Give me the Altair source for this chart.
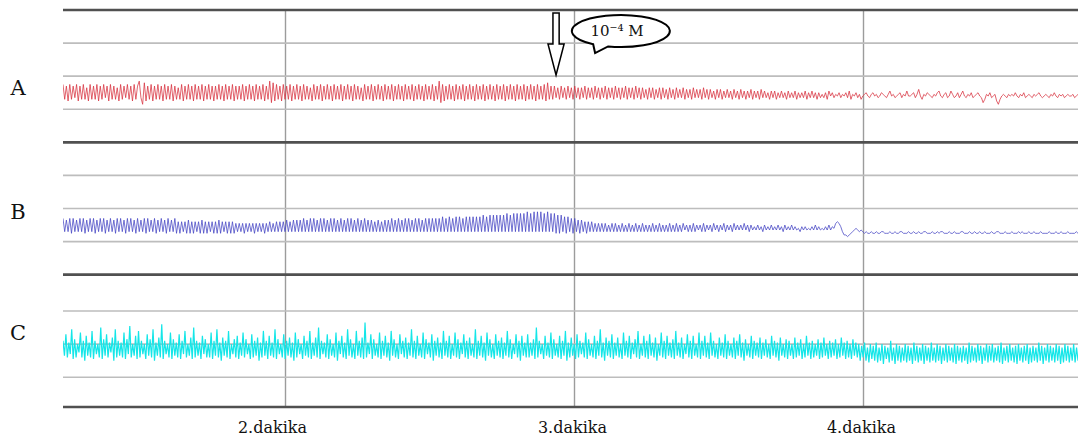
import altair as alt
import pandas as pd

# Time window shown (minutes) and the recorded traces, each in its own
# 0-80 panel units (grid lines every 20 units).
T_START, T_END = 1.232, 4.744

trace_a = [
    35, 26, 34, 25, 35, 26, 34, 27, 35, 25, 34, 26, 35, 26, 33, 25, 35, 26, 34, 26,
    35, 25, 34, 26, 35, 27, 34, 25, 35, 26, 34, 26, 33, 25, 35, 26, 34, 27, 35, 26,
    34, 25, 35, 26, 34, 37, 27, 23, 36, 25, 34, 26, 35, 25, 34, 26, 35, 26, 34, 25,
    35, 26, 34, 26, 35, 25, 34, 26, 33, 26, 35, 25, 34, 26, 35, 26, 34, 25, 35, 26,
    34, 26, 35, 25, 34, 26, 35, 26, 34, 25, 34, 26, 35, 26, 34, 25, 35, 26, 34, 26,
    35, 25, 34, 26, 34, 26, 35, 25, 34, 26, 35, 26, 34, 25, 35, 26, 34, 26, 35, 25,
    34, 26, 37, 24, 36, 25, 35, 26, 34, 25, 35, 26, 34, 26, 35, 25, 34, 26, 35, 26,
    34, 25, 35, 26, 34, 26, 33, 25, 35, 26, 34, 26, 35, 25, 34, 26, 35, 26, 34, 25,
    35, 26, 34, 26, 35, 25, 34, 26, 35, 26, 34, 25, 35, 26, 34, 26, 33, 25, 35, 26,
    34, 26, 35, 25, 34, 26, 35, 26, 34, 25, 35, 26, 34, 26, 35, 25, 34, 26, 35, 26,
    34, 25, 35, 26, 34, 26, 35, 25, 34, 26, 35, 26, 34, 25, 35, 26, 34, 26, 35, 25,
    34, 26, 37, 24, 35, 25, 34, 26, 35, 26, 34, 25, 35, 26, 34, 26, 35, 25, 34, 26,
    35, 26, 34, 25, 35, 26, 34, 26, 35, 25, 34, 26, 35, 26, 34, 25, 35, 26, 34, 26,
    35, 25, 34, 26, 35, 26, 34, 25, 35, 26, 34, 26, 35, 25, 34, 26, 35, 26, 34, 25,
    35, 26, 34, 26, 35, 25, 36, 26, 34, 26, 34, 27, 33, 26, 34, 27, 33, 26, 34, 27,
    33, 26, 34, 27, 33, 26, 33, 27, 34, 26, 33, 27, 33, 26, 34, 27, 33, 26, 33, 27,
    34, 26, 33, 27, 33, 26, 34, 27, 33, 26, 33, 27, 34, 26, 33, 27, 33, 26, 34, 27,
    33, 26, 33, 27, 32, 26, 33, 27, 33, 26, 32, 27, 33, 26, 33, 27, 32, 26, 33, 27,
    32, 26, 33, 27, 32, 27, 33, 26, 32, 27, 32, 26, 33, 27, 32, 27, 32, 26, 33, 27,
    32, 26, 32, 27, 31, 26, 32, 27, 32, 26, 31, 27, 32, 27, 31, 26, 32, 27, 31, 26,
    32, 27, 31, 26, 31, 27, 32, 26, 31, 27, 31, 26, 32, 27, 31, 27, 30, 26, 31, 27,
    31, 26, 30, 27, 31, 27, 30, 26, 31, 27, 30, 27, 31, 26, 30, 27, 30, 27, 31, 26,
    30, 27, 31, 27, 30, 26, 30, 27, 29, 27, 30, 26, 31, 28, 30, 27, 29, 28, 30, 27,
    29, 28, 30, 27, 31, 26, 29, 28, 30, 27, 29, 26, 28, 29, 30, 28, 27, 29, 30, 28,
    29, 27, 28, 30, 29, 28, 27, 29, 31, 28, 29, 27, 28, 29, 30, 27, 29, 28, 31, 28,
    28, 29, 30, 27, 29, 32, 28, 26, 29, 28, 30, 29, 28, 27, 29, 28, 30, 31, 28, 27,
    29, 30, 27, 28, 31, 29, 27, 28, 30, 27, 29, 31, 28, 27, 29, 28, 30, 27, 28, 29,
    30, 28, 27, 24, 26, 29, 28, 30, 27, 28, 29, 25, 23, 26, 28, 29, 28, 27, 29, 28,
    29, 28, 30, 28, 27, 29, 28, 30, 27, 28, 29, 28, 27, 29, 28, 29, 30, 28, 27, 28,
    29, 28, 27, 29, 28, 30, 28, 27, 29, 28, 29, 27, 28, 29, 28, 28, 29, 27, 28, 29,
]

trace_b = [
    34, 26, 33, 26, 34, 25, 34, 26, 33, 26, 34, 26, 34, 25, 33, 26, 34, 26, 34, 25,
    33, 26, 34, 26, 34, 25, 33, 26, 34, 26, 33, 25, 34, 26, 34, 26, 33, 25, 34, 26,
    34, 26, 33, 25, 34, 26, 33, 26, 34, 25, 34, 26, 33, 26, 34, 25, 33, 26, 34, 26,
    33, 25, 34, 26, 33, 26, 34, 25, 32, 25, 32, 26, 32, 25, 33, 25, 32, 25, 32, 26,
    32, 25, 33, 25, 32, 25, 32, 26, 32, 25, 32, 25, 33, 25, 32, 26, 32, 25, 32, 25,
    32, 25, 31, 26, 31, 26, 31, 25, 31, 26, 31, 26, 31, 25, 31, 26, 31, 26, 31, 25,
    31, 26, 32, 26, 31, 26, 32, 26, 32, 26, 32, 26, 33, 26, 32, 26, 33, 26, 33, 26,
    33, 26, 34, 26, 33, 26, 34, 26, 34, 26, 33, 26, 34, 26, 34, 26, 33, 26, 34, 26,
    34, 26, 33, 26, 34, 26, 33, 26, 34, 26, 34, 26, 33, 26, 34, 26, 33, 26, 34, 26,
    33, 26, 33, 26, 32, 26, 33, 26, 32, 26, 33, 26, 33, 26, 34, 26, 33, 26, 34, 26,
    33, 26, 34, 26, 34, 26, 33, 26, 34, 26, 34, 26, 33, 26, 34, 26, 34, 26, 34, 26,
    34, 26, 34, 26, 35, 26, 34, 26, 35, 26, 34, 26, 35, 26, 35, 26, 34, 26, 35, 26,
    35, 26, 35, 26, 35, 26, 35, 26, 36, 26, 35, 26, 36, 26, 36, 26, 36, 26, 36, 26,
    36, 26, 37, 26, 36, 26, 37, 26, 37, 26, 37, 26, 37, 26, 38, 26, 37, 26, 38, 26,
    38, 26, 38, 26, 37, 26, 38, 26, 37, 26, 37, 25, 36, 25, 36, 26, 35, 25, 35, 26,
    34, 25, 34, 26, 33, 25, 33, 26, 32, 25, 32, 26, 32, 26, 31, 26, 31, 26, 31, 26,
    31, 26, 30, 26, 31, 26, 31, 26, 30, 26, 31, 26, 30, 26, 31, 26, 30, 26, 31, 26,
    30, 26, 31, 26, 30, 26, 30, 26, 31, 26, 30, 26, 31, 26, 30, 26, 30, 26, 31, 26,
    30, 26, 31, 26, 30, 26, 31, 27, 30, 26, 30, 26, 31, 26, 30, 27, 30, 26, 31, 26,
    30, 27, 30, 26, 31, 27, 30, 26, 30, 27, 31, 26, 30, 27, 30, 26, 31, 27, 30, 27,
    30, 27, 31, 27, 30, 26, 30, 27, 29, 27, 30, 27, 29, 26, 30, 27, 29, 27, 30, 27,
    29, 27, 30, 27, 29, 26, 30, 27, 29, 27, 30, 27, 29, 27, 28, 26, 29, 27, 29, 27,
    28, 27, 29, 27, 30, 27, 29, 27, 28, 27, 29, 27, 30, 27, 29, 28, 31, 32, 31, 29,
    26, 24, 24, 23, 24, 25, 26, 27, 28, 27, 26, 27, 26, 25, 26, 25, 25, 26, 25, 25,
    26, 25, 25, 26, 26, 25, 25, 25, 26, 25, 25, 26, 25, 25, 26, 26, 25, 25, 25, 26,
    25, 25, 26, 25, 25, 26, 25, 25, 26, 26, 25, 25, 25, 26, 25, 25, 26, 25, 26, 26,
    25, 25, 25, 26, 25, 25, 26, 25, 25, 25, 26, 26, 25, 25, 25, 26, 25, 25, 26, 25,
    25, 26, 25, 25, 26, 25, 25, 25, 26, 25, 25, 26, 26, 25, 25, 25, 26, 25, 25, 25,
    26, 25, 25, 25, 26, 25, 26, 25, 25, 25, 26, 25, 25, 26, 25, 25, 25, 26, 25, 25,
    25, 25, 26, 25, 25, 25, 26, 25, 25, 26, 25, 25, 25, 26, 25, 25, 25, 25, 26, 25,
]

trace_c = [
    40, 31, 44, 30, 39, 32, 47, 29, 41, 30, 38, 33, 45, 30, 40, 28, 43, 31, 39, 30,
    46, 29, 40, 32, 38, 30, 48, 29, 41, 31, 44, 30, 39, 33, 42, 28, 47, 30, 40, 31,
    39, 30, 45, 29, 41, 32, 49, 30, 38, 31, 43, 29, 46, 30, 40, 32, 38, 29, 44, 31,
    41, 30, 47, 28, 39, 31, 42, 30, 50, 29, 40, 32, 38, 30, 45, 29, 41, 31, 39, 30,
    44, 29, 40, 32, 46, 30, 38, 31, 42, 29, 48, 30, 40, 31, 39, 29, 43, 32, 41, 30,
    38, 30, 45, 29, 40, 31, 47, 30, 39, 28, 42, 31, 40, 30, 46, 29, 38, 32, 41, 30,
    43, 29, 39, 31, 45, 30, 41, 32, 38, 29, 44, 30, 40, 31, 42, 28, 39, 30, 46, 31,
    40, 29, 43, 31, 39, 30, 47, 29, 41, 32, 38, 30, 44, 29, 40, 31, 42, 30, 39, 28,
    45, 30, 41, 32, 38, 29, 43, 31, 40, 30, 46, 29, 39, 31, 42, 30, 48, 29, 40, 32,
    39, 30, 44, 29, 41, 31, 38, 30, 45, 28, 40, 32, 43, 30, 39, 29, 47, 31, 41, 30,
    38, 29, 46, 31, 40, 30, 42, 29, 51, 30, 39, 32, 44, 29, 41, 31, 38, 30, 45, 29,
    40, 31, 43, 30, 39, 28, 46, 31, 41, 30, 38, 29, 44, 32, 40, 30, 42, 29, 39, 31,
    47, 30, 40, 29, 43, 31, 38, 30, 45, 29, 41, 32, 39, 30, 44, 28, 40, 31, 42, 30,
    39, 29, 46, 31, 40, 30, 43, 29, 38, 31, 45, 30, 41, 29, 39, 32, 44, 30, 40, 29,
    42, 31, 38, 30, 47, 29, 40, 31, 43, 30, 39, 28, 45, 31, 41, 30, 38, 29, 44, 31,
    40, 30, 42, 29, 39, 31, 46, 30, 41, 29, 38, 32, 44, 30, 40, 28, 43, 31, 39, 30,
    44, 30, 39, 31, 41, 29, 48, 30, 40, 32, 38, 29, 43, 31, 39, 30, 45, 29, 41, 31,
    38, 30, 43, 29, 40, 31, 46, 28, 39, 30, 42, 31, 38, 29, 44, 30, 40, 32, 39, 30,
    45, 29, 41, 31, 38, 30, 43, 29, 40, 31, 47, 30, 39, 28, 42, 31, 40, 30, 44, 29,
    39, 31, 42, 30, 38, 29, 45, 31, 40, 30, 43, 29, 39, 32, 41, 30, 46, 29, 38, 31,
    43, 30, 40, 29, 44, 31, 39, 30, 42, 28, 38, 31, 45, 30, 40, 29, 43, 31, 39, 30,
    41, 29, 46, 31, 39, 30, 42, 29, 38, 32, 44, 30, 40, 29, 43, 31, 38, 30, 45, 29,
    40, 31, 43, 30, 39, 29, 45, 31, 40, 30, 38, 29, 42, 31, 39, 30, 44, 29, 40, 31,
    38, 30, 42, 29, 40, 31, 44, 30, 39, 28, 41, 31, 38, 30, 43, 29, 40, 31, 39, 30,
    42, 29, 39, 31, 41, 30, 38, 29, 43, 31, 40, 30, 39, 28, 42, 31, 38, 30, 41, 29,
    40, 31, 38, 29, 42, 30, 39, 31, 41, 29, 38, 30, 43, 31, 39, 29, 40, 30, 38, 31,
    41, 29, 39, 30, 42, 31, 38, 29, 40, 30, 39, 31, 41, 29, 38, 30, 42, 31, 39, 29,
    40, 30, 38, 29, 41, 31, 39, 30, 38, 28, 37, 30, 39, 28, 36, 27, 38, 29, 37, 28,
    39, 27, 36, 28, 38, 26, 37, 29, 36, 27, 40, 28, 36, 26, 38, 28, 37, 27, 36, 28,
    38, 27, 37, 28, 36, 26, 39, 28, 37, 27, 36, 28, 38, 26, 37, 28, 36, 27, 39, 28,
    36, 27, 38, 28, 37, 26, 36, 28, 38, 27, 37, 28, 36, 27, 38, 26, 37, 28, 36, 27,
    37, 28, 36, 26, 39, 27, 37, 28, 36, 27, 38, 28, 37, 26, 36, 28, 38, 27, 37, 28,
    38, 27, 36, 28, 37, 27, 39, 26, 36, 28, 37, 27, 38, 28, 36, 27, 37, 26, 38, 28,
    36, 27, 37, 28, 38, 26, 36, 27, 37, 28, 36, 27, 39, 28, 37, 26, 36, 28, 38, 27,
    37, 28, 36, 27, 38, 28, 37, 26, 36, 27, 38, 28, 37, 27, 36, 28, 38, 27, 36, 28,
]

series_names = ["A", "B", "C"]
series_colors = ["#d8323f", "#4646c4", "#14e6e8"]
series_widths = [0.9, 0.9, 1.2]
series_opacity = [0.85, 0.85, 1.0]
panel_offset = {"A": 160, "B": 80, "C": 0}
label_level = {"A": 32, "B": 37, "C": 44}

thin_lines = [18, 38, 58, 100, 120, 140, 180, 200, 220]
thick_lines = [0, 80, 160, 240]
minute_ticks = [2, 3, 4]

# dose marker: time of addition and its label
dose_time = 2.938
dose_label = "10\u207b\u2074 M"
bubble_time = 3.163


def trace_frame(name, values):
    n = len(values)
    step = (T_END - T_START) / (n - 1)
    return pd.DataFrame({
        "t": [T_START + i * step for i in range(n)],
        "v": [v + panel_offset[name] for v in values],
        "series": name,
    })


x_scale = alt.Scale(domain=[T_START, T_END], nice=False, zero=False)
y_scale = alt.Scale(domain=[0, 240], nice=False, zero=False)

x_axis = alt.Axis(
    values=minute_ticks, grid=True, gridColor="#9c9c9c", gridWidth=1.4,
    domain=False, ticks=False, labelExpr="datum.value + '.dakika'",
    labelFont="DejaVu Serif", labelFontSize=16, labelColor="#111111",
    labelPadding=12, title=None,
    labelOffset={"condition": {"test": "datum.value == 2", "value": -13}, "value": -2},
)


def x_enc(field="t"):
    return alt.X(f"{field}:Q", scale=x_scale, axis=x_axis)


thin = alt.Chart(pd.DataFrame({"y": thin_lines})).mark_rule(
    color="#bdbdbd", strokeWidth=1.6
).encode(y=alt.Y("y:Q", scale=y_scale, axis=None))

thick = alt.Chart(pd.DataFrame({"y": thick_lines})).mark_rule(
    color="#505050", strokeWidth=2.6
).encode(y=alt.Y("y:Q", scale=y_scale, axis=None))

traces = []
for i, (name, vals) in enumerate(zip(series_names, [trace_a, trace_b, trace_c])):
    traces.append(
        alt.Chart(trace_frame(name, vals)).mark_line(
            color=series_colors[i], strokeWidth=series_widths[i],
            opacity=series_opacity[i], clip=True
        ).encode(
            x=x_enc(),
            y=alt.Y("v:Q", scale=y_scale, axis=None),
        )
    )

labels = alt.Chart(pd.DataFrame({
    "label": series_names,
    "y": [panel_offset[s] + label_level[s] for s in series_names],
})).mark_text(
    font="DejaVu Serif", fontSize=21, color="#111111", align="center", baseline="middle"
).encode(
    x=alt.value(-45),
    y=alt.Y("y:Q", scale=y_scale, axis=None),
    text="label:N",
)

arrow_shape = "M -0.1 -1 L 0.1 -1 L 0.1 0 L 0.26 0 L 0 1 L -0.26 0 L -0.1 0 Z"
arrow = alt.Chart(pd.DataFrame({"t": [dose_time], "y": [219.5]})).mark_point(
    shape=arrow_shape, size=3844, filled=True, fill="white", stroke="black",
    strokeWidth=1.5, opacity=1
).encode(
    x=x_enc(),
    y=alt.Y("y:Q", scale=y_scale, axis=None),
)

bubble_shape = "M -0.265 0.315 A 1 0.327 0 1 0 -0.57 0.269 L -0.53 0.45 Z"
bubble = alt.Chart(pd.DataFrame({"t": [bubble_time], "y": [227.3]})).mark_point(
    shape=bubble_shape, size=9604, filled=True, fill="white", stroke="black",
    strokeWidth=2, opacity=1
).encode(
    x=x_enc(),
    y=alt.Y("y:Q", scale=y_scale, axis=None),
)

bubble_text = alt.Chart(pd.DataFrame({"t": [bubble_time], "y": [227.3], "txt": [dose_label]})).mark_text(
    font="DejaVu Serif", fontSize=15, color="#111111", align="center", baseline="middle", dx=-4
).encode(
    x=x_enc(),
    y=alt.Y("y:Q", scale=y_scale, axis=None),
    text="txt:N",
)

chart = alt.layer(
    thin, thick, *traces, labels, arrow, bubble, bubble_text
).properties(
    width=1015, height=397,
    autosize=alt.AutoSizeParams(type="none"),
    padding={"left": 63, "top": 10, "right": 0, "bottom": 31},
    background="white",
).configure_view(strokeWidth=0)

chart.save("out.html", embed_options={"renderer": "svg", "actions": False})
